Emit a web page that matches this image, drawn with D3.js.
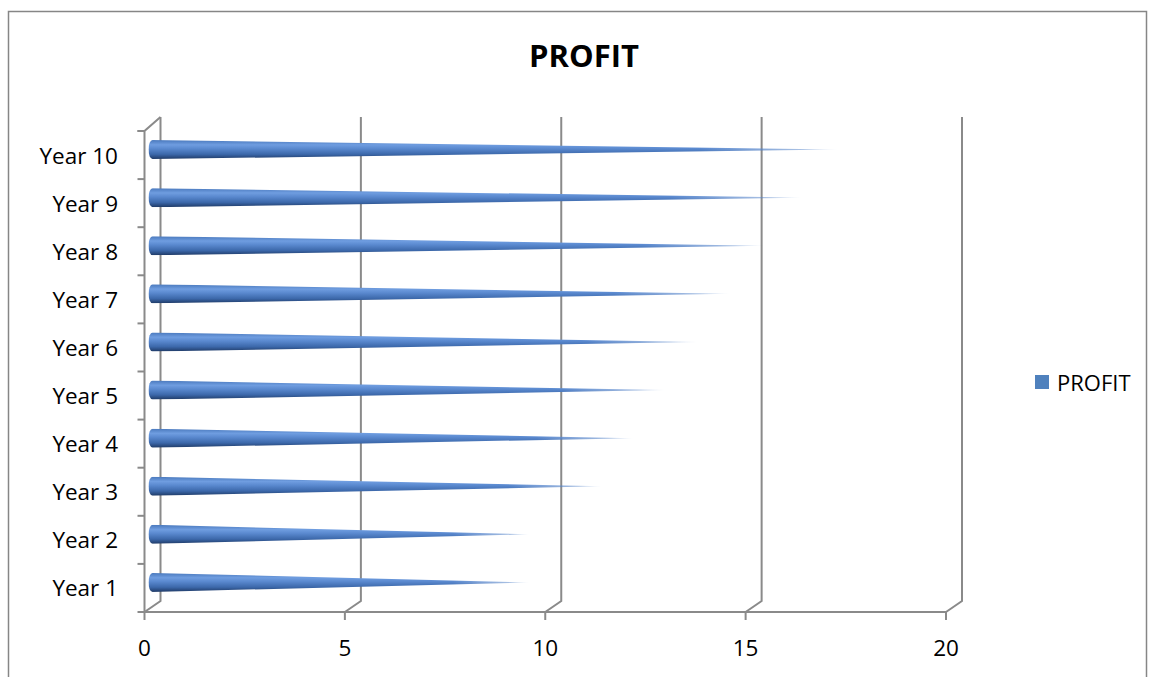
<!DOCTYPE html>
<html>
<head>
<meta charset="utf-8">
<script src="https://cdn.jsdelivr.net/npm/d3@7/dist/d3.min.js"></script>
<style>
  html, body { margin: 0; padding: 0; background: #fff; }
  svg { display: block; font-family: "Open Sans", Lato, sans-serif; }
</style>
</head>
<body>
<div id="chart"></div>
<script>
// Profit per year, drawn as 3D cones on a floor/wall frame
const categories = ["Year 1", "Year 2", "Year 3", "Year 4", "Year 5",
                    "Year 6", "Year 7", "Year 8", "Year 9", "Year 10"];
const profit = [9.4, 9.4, 11.2, 12.0, 12.8, 13.6, 14.4, 15.3, 16.2, 17.1];
const xTicks = [0, 5, 10, 15, 20];
const seriesName = "PROFIT";
const titleText = "PROFIT";

const W = 1149, H = 677;
const svg = d3.select("#chart").append("svg")
  .attr("width", W).attr("height", H);

// chart area border
svg.append("rect")
  .attr("x", 8.5).attr("y", 11.5)
  .attr("width", 1138).attr("height", 700)
  .attr("fill", "#fff").attr("stroke", "#868686").attr("stroke-width", 1.5);

// front plane scales + depth offset to the back wall
const x = d3.scaleLinear().domain([0, 20]).range([144.5, 946]);
const y = d3.scaleBand().domain(categories).range([612, 131]);
const depth = { dx: 16, dy: -11 };
const gridColor = "#8a8a8a";

const frame = svg.append("g")
  .attr("fill", "none").attr("stroke", gridColor).attr("stroke-width", 2);

const yTop = y.range()[1], yBot = y.range()[0];

// floor front edge
frame.append("line")
  .attr("x1", x(0)).attr("x2", x(20)).attr("y1", yBot).attr("y2", yBot);

// floor diagonals and back-wall gridlines
xTicks.forEach(v => {
  frame.append("path")
    .attr("d", `M${x(v)},${yBot} L${x(v) + depth.dx},${yBot + depth.dy} L${x(v) + depth.dx},${yTop + depth.dy - 3}`);
  // tick below the axis
  frame.append("line")
    .attr("x1", x(v)).attr("x2", x(v)).attr("y1", yBot).attr("y2", yBot + 8);
});

// left side wall: front edge and top diagonal
frame.append("path")
  .attr("d", `M${x(0)},${yBot} L${x(0)},${yTop} L${x(0) + depth.dx},${yTop + depth.dy - 3}`);

// category ticks on the left wall
const bounds = categories.map(c => y(c)).concat([yTop]);
bounds.push(yBot);
bounds.forEach(b => {
  frame.append("line")
    .attr("x1", x(0) - 7).attr("x2", x(0)).attr("y1", b).attr("y2", b);
});

// gradients: vertical shading of a cone, horizontal fade toward its tip
const defs = svg.append("defs");
const shade = defs.append("linearGradient")
  .attr("id", "coneShade").attr("x1", 0).attr("y1", 0).attr("x2", 0).attr("y2", 1);
[[0, "#4a79bd"], [0.25, "#6f9de0"], [0.45, "#5a89cf"], [0.75, "#3c68aa"], [1, "#1f3a66"]]
  .forEach(([o, c]) => shade.append("stop").attr("offset", o).attr("stop-color", c));

const fade = defs.append("linearGradient")
  .attr("id", "tipFade").attr("x1", 0).attr("y1", 0).attr("x2", 1).attr("y2", 0);
[[0, 1], [0.8, 1], [0.95, 0.5], [1, 0.1]]
  .forEach(([o, a]) => fade.append("stop").attr("offset", o)
    .attr("stop-color", "#fff").attr("stop-opacity", a));
defs.append("mask")
  .attr("id", "tipMask").attr("maskContentUnits", "objectBoundingBox")
  .append("rect").attr("width", 1).attr("height", 1).attr("fill", "url(#tipFade)");

// cones
const r = 9.5, capRx = 4;
const cones = svg.append("g");
categories.forEach((c, i) => {
  const cy = y(c) + y.bandwidth() / 2 + depth.dy / 2;
  const x0 = x(0) + depth.dx / 2;
  const xt = x(profit[i]) + depth.dx / 2;
  cones.append("path")
    .attr("d", `M${x0},${cy - r} L${xt},${cy} L${x0},${cy + r} A${capRx},${r} 0 0 1 ${x0},${cy - r} Z`)
    .attr("fill", "url(#coneShade)")
    .attr("mask", "url(#tipMask)");
});

// category labels
svg.append("g").selectAll("text").data(categories).join("text")
  .attr("x", 118).attr("y", d => y(d) + y.bandwidth() / 2)
  .attr("text-anchor", "end").attr("dominant-baseline", "central")
  .attr("font-size", 22.5).attr("fill", "#000")
  .text(d => d);

// value labels
svg.append("g").selectAll("text").data(xTicks).join("text")
  .attr("x", d => x(d)).attr("y", 647)
  .attr("text-anchor", "middle").attr("dominant-baseline", "central")
  .attr("font-size", 22.5).attr("fill", "#000")
  .text(d => d);

// title
svg.append("text")
  .attr("x", 584).attr("y", 55)
  .attr("text-anchor", "middle").attr("dominant-baseline", "central")
  .attr("font-size", 31).attr("font-weight", "bold").attr("fill", "#000")
  .text(titleText);

// legend
svg.append("rect")
  .attr("x", 1035).attr("y", 375).attr("width", 14).attr("height", 14)
  .attr("fill", "#4f81bd");
svg.append("text")
  .attr("x", 1057).attr("y", 382)
  .attr("dominant-baseline", "central")
  .attr("font-size", 22).attr("fill", "#000")
  .text(seriesName);
</script>
</body>
</html>
